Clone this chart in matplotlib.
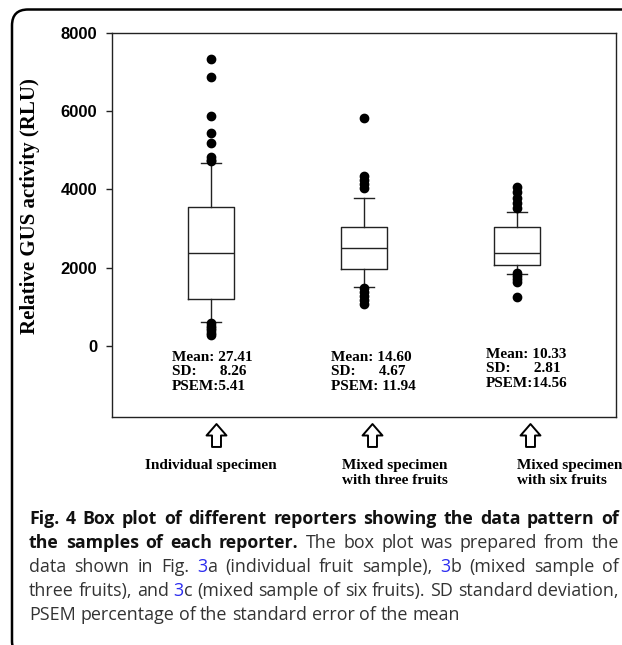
import matplotlib
matplotlib.use("Agg")
import matplotlib.pyplot as plt
from matplotlib.patches import FancyBboxPatch
from matplotlib.path import Path

# ---- data ----
positions = [1, 2, 3]
q1 = [1200, 1970, 2070]
medians = [2380, 2505, 2380]
q3 = [3550, 3040, 3040]
whis_lo = [610, 1510, 1840]
whis_hi = [4680, 3780, 3430]
fliers_ind = [7340, 6880, 5880, 5440, 5190, 4830, 4760, 4720,
              580, 520, 460, 400, 340, 280]
fliers_three = [5830, 4350, 4250, 4150, 4050, 1480, 1380, 1280, 1180, 1080]
fliers_six = [4060, 3930, 3790, 3650, 3520, 1860, 1780, 1700, 1640, 1250]

stat_texts = ["Mean: 27.41\nSD:      8.26\nPSEM:5.41",
              "Mean: 14.60\nSD:      4.67\nPSEM: 11.94",
              "Mean: 10.33\nSD:      2.81\nPSEM:14.56"]
group_labels = ["Individual specimen",
                "Mixed specimen\nwith three fruits",
                "Mixed specimen\nwith six fruits"]
yticks = [0, 2000, 4000, 6000, 8000]
ylabel = "Relative GUS activity (RLU)"

# caption lines: (text, bold, color) segments
BLK, GRY, BLU = "#111111", "#333333", "#2b2bf0"
caption = [
    [("Fig. 4 Box plot of different reporters showing the data pattern of", True, BLK)],
    [("the samples of each reporter.", True, BLK),
     (" The box plot was prepared from the", False, GRY)],
    [("data shown in Fig. ", False, GRY), ("3", False, BLU),
     ("a (individual fruit sample), ", False, GRY), ("3", False, BLU),
     ("b (mixed sample of", False, GRY)],
    [("three fruits), and ", False, GRY), ("3", False, BLU),
     ("c (mixed sample of six fruits). SD standard deviation,", False, GRY)],
    [("PSEM percentage of the standard error of the mean", False, GRY)],
]

W, H = 622, 645
fig = plt.figure(figsize=(W / 100, H / 100), dpi=100)
ax = fig.add_axes([112 / W, 1 - 417 / H, (616 - 112) / W, (417 - 33) / H])

stats = []
for i, fl in enumerate([fliers_ind, fliers_three, fliers_six]):
    stats.append(dict(q1=q1[i], med=medians[i], q3=q3[i],
                      whislo=whis_lo[i], whishi=whis_hi[i], fliers=fl))

lc = "#222222"
ax.bxp(stats, positions=positions, widths=0.3, capwidths=0.13,
       boxprops=dict(color=lc, lw=1.0),
       whiskerprops=dict(color=lc, lw=1.0),
       capprops=dict(color=lc, lw=1.0),
       medianprops=dict(color=lc, lw=1.0),
       flierprops=dict(marker="o", mfc="black", mec="black", ms=6))

ax.set_xlim(0.353, 3.647)
ax.set_ylim(-1815, 8000)
ax.set_xticks([])
ax.set_yticks(yticks)
ax.set_yticklabels([str(t) for t in yticks], family="Liberation Sans",
                   weight="bold", fontsize=12)
ax.tick_params(axis="y", direction="out", length=4.5, width=1, pad=6,
               color=lc)
for s in ax.spines.values():
    s.set_color(lc)
    s.set_linewidth(1.0)

fig.text(30 / W, 1 - 206 / H, ylabel, rotation=90, family="Liberation Serif",
         weight="bold", fontsize=15, ha="center", va="center")

# stats under each box
stat_x = [0.745, 1.784, 2.797]
stat_y = [-120, -120, -40]
for x, y, t in zip(stat_x, stat_y, stat_texts):
    ax.text(x, y, t, family="Liberation Serif", weight="bold", fontsize=11,
            ha="left", va="top", linespacing=1.15, clip_on=False)

# hollow up-arrows below the axes (custom marker)
arrow = Path([(0, 11.5), (10, 0), (4.5, 0), (4.5, -11.5), (-4.5, -11.5),
              (-4.5, 0), (-10, 0), (0, 11.5)], closed=True)
arrow_x = [1.033, 2.052, 3.085]
ax.plot(arrow_x, [-2275] * 3, ls="none", marker=arrow, ms=16.5, mfc="white",
        mec="black", mew=1.4, clip_on=False)

lab_x = [1.0, 2.203, 3.0]
lab_ha = ["center", "center", "left"]
for x, ha, t in zip(lab_x, lab_ha, group_labels):
    ax.text(x, -2900, t, family="Liberation Serif", weight="bold",
            fontsize=11, ha=ha, va="top", linespacing=1.18,
            multialignment=ha, clip_on=False)

# rounded frame around figure + caption
frame = FancyBboxPatch((0.12, -0.12), 6.6, 6.355 + 0.12,
                       boxstyle="round,pad=0,rounding_size=0.16",
                       transform=fig.dpi_scale_trans, fill=False,
                       ec="black", lw=1.8, clip_on=False)
fig.add_artist(frame)

# justified caption
renderer = fig.canvas.get_renderer()
left, right = 29, 619
baselines = [524, 548, 572, 596, 620]


def font_of(bold):
    if bold:
        return dict(family="Open Sans", weight="bold", fontsize=12.8)
    return dict(family="Open Sans", weight="normal", fontsize=12.9)


def width_of(s, bold):
    t = fig.text(0, 0, s, **font_of(bold))
    w = t.get_window_extent(renderer).width
    t.remove()
    return w


for li, (line, yb) in enumerate(zip(caption, baselines)):
    # split into words made of styled pieces
    words = [[]]
    for txt, bold, col in line:
        parts = txt.split(" ")
        for k, p in enumerate(parts):
            if k > 0:
                words.append([])
            if p:
                words[-1].append((p, bold, col))
    words = [w for w in words if w]
    widths = [sum(width_of(p, b) for p, b, c in w) for w in words]
    if li < len(caption) - 1:
        gap = (right - left - sum(widths)) / (len(words) - 1)
    else:
        gap = width_of("a a", False) - width_of("aa", False)
    x = left
    for w, ww in zip(words, widths):
        xx = x
        for p, b, c in w:
            fig.text(xx / W, 1 - yb / H, p, color=c, ha="left",
                     va="baseline", **font_of(b))
            xx += width_of(p, b)
        x += ww + gap

fig.savefig("out.png", dpi=100)
